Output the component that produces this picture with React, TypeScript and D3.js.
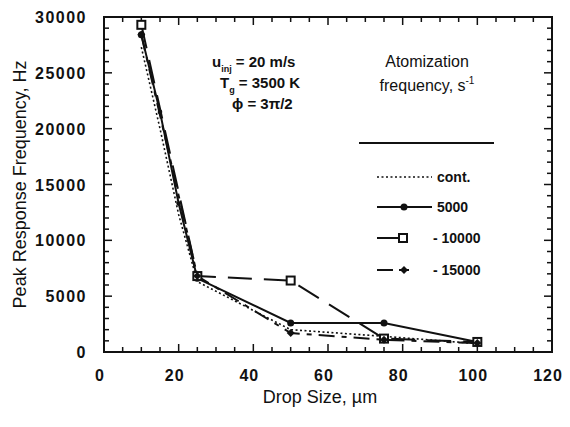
import * as d3 from 'd3';

// Drop sizes (µm) and peak response frequency (Hz) for each atomization frequency
const contSizes = [10, 15, 20, 25, 50, 75, 100];
const contValues = [27300, 20000, 12300, 6300, 2000, 1400, 750];
const f5000Sizes = [10, 15, 20, 25, 50, 75, 100];
const f5000Values = [28400, 21500, 13300, 6600, 2600, 2600, 900];
const f10000Sizes = [10, 25, 50, 75, 100];
const f10000Values = [29300, 6800, 6400, 1200, 900];
const f15000Sizes = [10, 25, 50, 75, 100];
const f15000Values = [28400, 6800, 1700, 1100, 800];

const xTicks = [0, 20, 40, 60, 80, 100, 120];
const yTicks = [0, 5000, 10000, 15000, 20000, 25000, 30000];

const W = 570;
const H = 427;
const INK = '#111';
const FONT = "'Liberation Sans', Arial, sans-serif";

export default function App() {
  const x = d3.scaleLinear().domain([0, 120]).range([104, 552]);
  const y = d3.scaleLinear().domain([0, 30000]).range([352, 17]);

  const line = d3
    .line<[number, number]>()
    .x((d) => x(d[0]))
    .y((d) => y(d[1]));

  const pts = (xs: number[], vals: number[]) => xs.map((d, i) => [d, vals[i]] as [number, number]);

  const minorX = d3.range(0, 121, 5);
  const minorY = d3.range(0, 30001, 1000);

  const diamond = (cx: number, cy: number, r: number) =>
    `M${cx},${cy - r}L${cx + r},${cy}L${cx},${cy + r}L${cx - r},${cy}Z`;

  const [x0, x1] = x.range();
  const [yb, yt] = y.range();

  return (
    <svg
      width={W}
      height={H}
      style={{ position: 'absolute', left: 0, top: 0, background: '#fff' }}
      fontFamily={FONT}
    >
      <rect width={W} height={H} fill="#fff" />

      {/* ticks, all pointing inward on the four sides */}
      {minorX.map((v) => {
        const len = v % 20 === 0 ? 8 : 5;
        return (
          <g key={'tx' + v} stroke={INK} strokeWidth={1.5}>
            <line x1={x(v)} x2={x(v)} y1={yb} y2={yb - len} />
            <line x1={x(v)} x2={x(v)} y1={yt} y2={yt + len} />
          </g>
        );
      })}
      {minorY.map((v) => {
        const len = v % 5000 === 0 ? 8 : 5;
        return (
          <g key={'ty' + v} stroke={INK} strokeWidth={1.5}>
            <line x1={x0} x2={x0 + len} y1={y(v)} y2={y(v)} />
            <line x1={x1} x2={x1 - len} y1={y(v)} y2={y(v)} />
          </g>
        );
      })}

      {/* frame */}
      <rect x={x0} y={yt} width={x1 - x0} height={yb - yt} fill="none" stroke={INK} strokeWidth={2} />

      {/* tick labels */}
      {xTicks.map((v) => (
        <text key={'lx' + v} x={x(v) - 4} y={381} textAnchor="middle" fontSize={16} fontWeight="bold" letterSpacing={1} fill={INK}>
          {v}
        </text>
      ))}
      {yTicks.map((v) => (
        <text key={'ly' + v} x={87} y={y(v) + 6} textAnchor="end" fontSize={16} fontWeight="bold" letterSpacing={1.5} fill={INK}>
          {v}
        </text>
      ))}

      {/* axis titles */}
      <text x={320} y={403} textAnchor="middle" fontSize={18} fill={INK}>
        Drop Size, µm
      </text>
      <text transform={`translate(26,${(yb + yt) / 2}) rotate(-90)`} textAnchor="middle" fontSize={18} fill={INK}>
        Peak Response Frequency, Hz
      </text>

      {/* series */}
      <path d={line(pts(contSizes, contValues))!} fill="none" stroke={INK} strokeWidth={1.6} strokeDasharray="2 2.5" />
      <path d={line(pts(f5000Sizes, f5000Values))!} fill="none" stroke={INK} strokeWidth={2} />
      <path d={line(pts(f10000Sizes, f10000Values))!} fill="none" stroke={INK} strokeWidth={2} strokeDasharray="24 12" />
      <path d={line(pts(f15000Sizes, f15000Values))!} fill="none" stroke={INK} strokeWidth={2} strokeDasharray="16 7 5 7" />

      {pts(f5000Sizes, f5000Values).map((d, i) => (
        <circle key={'c' + i} cx={x(d[0])} cy={y(d[1])} r={d[0] === 15 || d[0] === 20 ? 2.3 : 3.5} fill={INK} />
      ))}
      {pts(f10000Sizes, f10000Values).map((d, i) => (
        <rect key={'s' + i} x={x(d[0]) - 4} y={y(d[1]) - 4} width={8} height={8} fill="#fff" stroke={INK} strokeWidth={2} />
      ))}
      {pts(f15000Sizes, f15000Values).map((d, i) => (
        <path key={'d' + i} d={diamond(x(d[0]), y(d[1]), 4)} fill={INK} />
      ))}

      {/* conditions */}
      <g fontSize={15} fontWeight="bold" fill={INK}>
        <text x={212} y={67}>
          u<tspan fontSize={9} dy={5}>inj</tspan>
          <tspan dy={-5}> = 20 m/s</tspan>
        </text>
        <text x={220} y={88}>
          T<tspan fontSize={9} dy={5}>g</tspan>
          <tspan dy={-5}> = 3500 K</tspan>
        </text>
        <text x={232} y={109}>ϕ = 3π/2</text>
      </g>

      {/* legend */}
      <g fill={INK}>
        <text x={427} y={67} textAnchor="middle" fontSize={16}>
          Atomization
        </text>
        <text x={427} y={91} textAnchor="middle" fontSize={16}>
          frequency, s<tspan fontSize={10} dy={-7}>-1</tspan>
        </text>
        <line x1={359} x2={494} y1={143} y2={143} stroke={INK} strokeWidth={1.8} />

        <line x1={377} x2={432} y1={177} y2={177} stroke={INK} strokeWidth={1.6} strokeDasharray="2 2.5" />
        <text x={437} y={182} fontSize={14} fontWeight="bold">cont.</text>

        <line x1={377} x2={432} y1={207} y2={207} stroke={INK} strokeWidth={2} />
        <circle cx={404} cy={207} r={3.5} />
        <text x={437} y={212} fontSize={14} fontWeight="bold">5000</text>

        <line x1={377} x2={400} y1={238} y2={238} stroke={INK} strokeWidth={2} />
        <rect x={399} y={234} width={8} height={8} fill="#fff" stroke={INK} strokeWidth={2} />
        <text x={433} y={243} fontSize={14} fontWeight="bold">- 10000</text>

        <line x1={377} x2={393} y1={270} y2={270} stroke={INK} strokeWidth={2} />
        <line x1={399} x2={409} y1={270} y2={270} stroke={INK} strokeWidth={2} />
        <path d={diamond(404, 270, 4)} />
        <text x={433} y={275} fontSize={14} fontWeight="bold">- 15000</text>
      </g>
    </svg>
  );
}
